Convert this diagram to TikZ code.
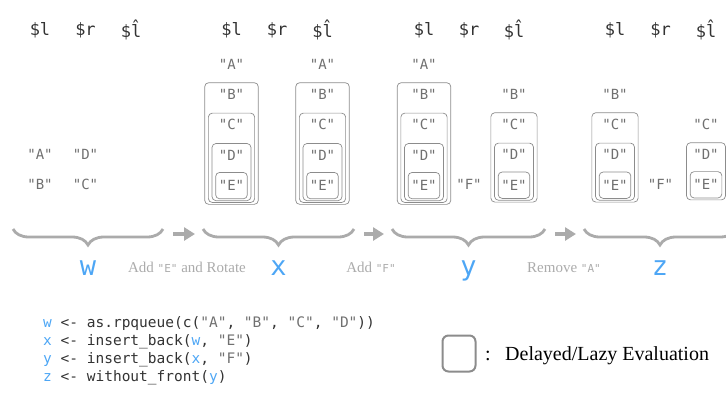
\documentclass[tikz,border=0pt]{standalone}
\usepackage{fontspec}
\setmainfont{Liberation Serif}
\setmonofont{DejaVu Sans Mono}
\usetikzlibrary{positioning,fit,calc,decorations.pathreplacing,arrows.meta}

\definecolor{boxgray}{HTML}{8C8C8C}
\definecolor{itemgray}{HTML}{707070}
\definecolor{lightgray}{HTML}{ABABAB}
\definecolor{varblue}{HTML}{4DA6F5}
\definecolor{codedark}{HTML}{333333}

\begin{document}
\begin{tikzpicture}[
    x=1pt, y=-1pt,
    head/.style={font=\fontsize{17}{20}\selectfont\ttfamily, text=codedark, inner sep=0},
    item/.style={font=\fontsize{14}{16}\selectfont\ttfamily, text=itemgray, inner sep=0, minimum width=24pt, minimum height=20pt},
    lazy/.style={draw=boxgray, line width=0.7pt, rounded corners=4pt, inner xsep=3.3pt, inner ysep=1.5pt},
    lazyin/.style={lazy, inner sep=3pt},
    brace/.style={draw=lightgray, line width=2.8pt, decorate, decoration={brace, mirror, amplitude=16pt}},
    flow/.style={draw=lightgray, line width=4pt, -{Triangle[length=11pt,width=13pt]}},
    var/.style={font=\fontsize{27}{30}\selectfont\ttfamily, text=varblue, anchor=base, inner sep=0},
    op/.style={font=\fontsize{15}{18}\selectfont, text=lightgray, anchor=base, inner sep=0},
    code/.style={font=\fontsize{14.5}{19}\selectfont\ttfamily, text=codedark, anchor=base west, inner sep=0},
    legend/.style={font=\fontsize{20}{24}\selectfont, text=black, anchor=base west, inner sep=0}
]
\useasboundingbox (0,0) rectangle (726,392);
\clip (0,0) rectangle (726,392);

% Headers
\node[head] (wh1) at (40,30) {\$l};
\node[head] (wh2) at (85.5,30) {\$r};
\node[head] (wh3) at (131,30) {\$\^{l}};
\node[head] (xh1) at (231.5,30) {\$l};
\node[head] (xh2) at (277,30) {\$r};
\node[head] (xh3) at (322.5,30) {\$\^{l}};
\node[head] (yh1) at (424,30) {\$l};
\node[head] (yh2) at (469,30) {\$r};
\node[head] (yh3) at (514,30) {\$\^{l}};
\node[head] (zh1) at (615,30) {\$l};
\node[head] (zh2) at (660.5,30) {\$r};
\node[head] (zh3) at (706,30) {\$\^{l}};

% w
\node[item] (wA) at (40,154) {"A"};
\node[item, below=10pt of wA] (wB) {"B"};
\node[item] (wD) at (85.5,154) {"D"};
\node[item, below=10pt of wD] (wC) {"C"};

% x
\node[item] (xlA) at (231.5,64) {"A"};
\node[item, below=10pt of xlA] (xlB) {"B"};
\node[item, below=10pt of xlB] (xlC) {"C"};
\node[item, below=10pt of xlC] (xlD) {"D"};
\node[item, below=10pt of xlD] (xlE) {"E"};
\node[lazyin, fit=(xlE)] (xlEbox) {};
\node[lazy, fit=(xlD) (xlEbox)] (xlDbox) {};
\node[lazy, fit=(xlC) (xlDbox)] (xlCbox) {};
\node[lazy, fit=(xlB) (xlCbox)] (xlBbox) {};

\node[item] (xhA) at (322.5,64) {"A"};
\node[item, below=10pt of xhA] (xhB) {"B"};
\node[item, below=10pt of xhB] (xhC) {"C"};
\node[item, below=10pt of xhC] (xhD) {"D"};
\node[item, below=10pt of xhD] (xhE) {"E"};
\node[lazyin, fit=(xhE)] (xhEbox) {};
\node[lazy, fit=(xhD) (xhEbox)] (xhDbox) {};
\node[lazy, fit=(xhC) (xhDbox)] (xhCbox) {};
\node[lazy, fit=(xhB) (xhCbox)] (xhBbox) {};

% y
\node[item] (ylA) at (424,64) {"A"};
\node[item, below=10pt of ylA] (ylB) {"B"};
\node[item, below=10pt of ylB] (ylC) {"C"};
\node[item, below=10pt of ylC] (ylD) {"D"};
\node[item, below=10pt of ylD] (ylE) {"E"};
\node[lazyin, fit=(ylE)] (ylEbox) {};
\node[lazy, fit=(ylD) (ylEbox)] (ylDbox) {};
\node[lazy, fit=(ylC) (ylDbox)] (ylCbox) {};
\node[lazy, fit=(ylB) (ylCbox)] (ylBbox) {};

\node[item] (yrF) at (469,184) {"F"};

\node[item] (yhB) at (514,94) {"B"};
\node[item, below=10pt of yhB] (yhC) {"C"};
\node[item, below=10pt of yhC] (yhD) {"D"};
\node[item, below=10pt of yhD] (yhE) {"E"};
\node[lazyin, fit=(yhE)] (yhEbox) {};
\node[lazy, fit=(yhD) (yhEbox)] (yhDbox) {};
\node[lazy, fit=(yhC) (yhDbox)] (yhCbox) {};

% z
\node[item] (zlB) at (615,94) {"B"};
\node[item, below=10pt of zlB] (zlC) {"C"};
\node[item, below=10pt of zlC] (zlD) {"D"};
\node[item, below=10pt of zlD] (zlE) {"E"};
\node[lazyin, fit=(zlE)] (zlEbox) {};
\node[lazy, fit=(zlD) (zlEbox)] (zlDbox) {};
\node[lazy, fit=(zlC) (zlDbox)] (zlCbox) {};

\node[item] (zrF) at (660.5,184) {"F"};

\node[item] (zhC) at (706,124) {"C"};
\node[item, below=10pt of zhC] (zhD) {"D"};
\node[item, below=10pt of zhD] (zhE) {"E"};
\node[lazyin, fit=(zhE)] (zhEbox) {};
\node[lazy, fit=(zhD) (zhEbox)] (zhDbox) {};

% Braces and steps
\coordinate (wL) at (13,229);
\coordinate (wR) at (163,229);
\coordinate (xL) at (203,229);
\coordinate (xR) at (354,229);
\coordinate (yL) at (392,229);
\coordinate (yR) at (545,229);
\coordinate (zL) at (584,229);
\coordinate (zR) at (736,229);
\draw[brace] (wL) -- (wR);
\draw[brace] (xL) -- (xR);
\draw[brace] (yL) -- (yR);
\draw[brace] (zL) -- (zR);
\draw[flow] ($(wR)+(10,5)$) -- ($(xL)+(-8,5)$);
\draw[flow] ($(xR)+(10,5)$) -- ($(yL)+(-8,5)$);
\draw[flow] ($(yR)+(10,5)$) -- ($(zL)+(-8,5)$);

\node[var] (wlab) at (88,275) {w};
\node[var] (xlab) at (278.5,275) {x};
\node[var] (ylab) at (468.5,275) {y};
\node[var] (zlab) at (660,275) {z};
\node[op] (op1) at (187,272) {Add {\fontsize{11}{12}\selectfont\ttfamily"E"} and Rotate};
\node[op] (op2) at (371,272) {Add {\fontsize{11}{12}\selectfont\ttfamily"F"}};
\node[op] (op3) at (564,272) {Remove {\fontsize{11}{12}\selectfont\ttfamily"A"}};

% Code
\node[code] (code1) at (43,327) {\textcolor{varblue}{w} <- as.rpqueue(c(\textcolor{itemgray}{"A"}, \textcolor{itemgray}{"B"}, \textcolor{itemgray}{"C"}, \textcolor{itemgray}{"D"}))};
\node[code] (code2) at (43,345) {\textcolor{varblue}{x} <- insert\_back(\textcolor{varblue}{w}, \textcolor{itemgray}{"E"})};
\node[code] (code3) at (43,363) {\textcolor{varblue}{y} <- insert\_back(\textcolor{varblue}{x}, \textcolor{itemgray}{"F"})};
\node[code] (code4) at (43,381) {\textcolor{varblue}{z} <- without\_front(\textcolor{varblue}{y})};

% Legend
\node[draw=boxgray, line width=2pt, rounded corners=6pt, minimum width=33pt, minimum height=36pt, inner sep=0] (legbox) at (459,353.5) {};
\node[legend] (colon) at (485,360) {:};
\node[legend] (legtext) at (505,360) {Delayed/Lazy Evaluation};

\end{tikzpicture}
\end{document}
